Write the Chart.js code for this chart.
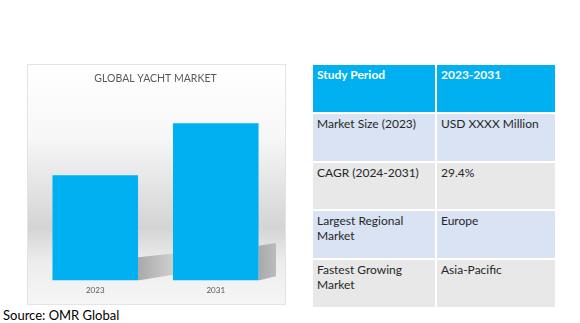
<!DOCTYPE html>
<html>
<head>
<meta charset="utf-8">
<script src="https://cdn.jsdelivr.net/npm/chart.js@4.4.1/dist/chart.umd.min.js"></script>
<style>
  body { margin: 0; width: 580px; height: 323px; background: #fff; position: relative; overflow: hidden; font-family: Lato, "Open Sans", sans-serif; }
  #box { position: absolute; left: 27px; top: 64px; width: 257px; height: 239px; border: 1px solid #e4e4e4;
    background: linear-gradient(to bottom, #ffffff 0%, #f7f7f7 30%, #d4d4d4 68%, #ececec 82%, #f6f6f6 100%); }
  #box canvas { position: absolute; left: 0; top: 0; }
  table { position: absolute; left: 311px; top: 63px; width: 246px; height: 244px; border-collapse: collapse; table-layout: fixed; font-size: 12px; color: #262626; }
  tr { height: 48.8px; }
  td { vertical-align: top; padding: 2px 4px; border: 2px solid #fff; line-height: 15px; }
  td:first-child { width: 114px; }
  tr.head td { background: #00b0f0; color: #fff; font-weight: bold; }
  tr.blue td { background: #dae3f3; }
  tr.grey td { background: #e8e8e8; }
  #src { position: absolute; left: 3px; top: 307px; font-size: 13px; color: #000; }
</style>
</head>
<body>
<div id="box"><canvas id="chart" width="257" height="239"></canvas></div>
<table id="info"></table>
<div id="src">Source: OMR Global</div>
<script>
const years = ['2023', '2031'];
const marketSize = [109, 163];

const tableLabels = ['Study Period', 'Market Size (2023)', 'CAGR (2024-2031)', 'Largest Regional Market', 'Fastest Growing Market'];
const tableValues = ['2023-2031', 'USD XXXX Million', '29.4%', 'Europe', 'Asia-Pacific'];

const info = document.getElementById('info');
tableLabels.forEach((label, i) => {
  const tr = document.createElement('tr');
  tr.className = i === 0 ? 'head' : (i % 2 ? 'blue' : 'grey');
  tr.innerHTML = '<td>' + label + '</td><td>' + tableValues[i] + '</td>';
  info.appendChild(tr);
});

// grey floor shadow behind each bar
const barShadow = {
  id: 'barShadow',
  beforeDatasetsDraw(chart) {
    const ctx = chart.ctx;
    const area = chart.chartArea;
    ctx.save();
    ctx.beginPath();
    ctx.rect(area.left, area.top, area.right - area.left, area.bottom - area.top);
    ctx.clip();
    chart.getDatasetMeta(0).data.forEach(bar => {
      const x2 = bar.x + bar.width / 2;
      const h = bar.base - bar.y;
      const g = ctx.createLinearGradient(x2, 0, x2 + 40, 0);
      g.addColorStop(0, '#a9a9a9');
      g.addColorStop(1, '#d4d4d4');
      ctx.fillStyle = g;
      ctx.beginPath();
      ctx.moveTo(x2, bar.base);
      ctx.lineTo(x2, bar.base - 0.22 * h);
      ctx.lineTo(x2 + 40, bar.base - 0.26 * h);
      ctx.lineTo(x2 + 40, bar.base - 0.06 * h);
      ctx.closePath();
      ctx.fill();
    });
    ctx.restore();
  }
};

const ctx = document.getElementById('chart').getContext('2d');
new Chart(ctx, {
  type: 'bar',
  data: {
    labels: years,
    datasets: [{
      data: marketSize,
      backgroundColor: '#00b0f0',
      borderWidth: 0,
      barPercentage: 0.71,
      categoryPercentage: 1
    }]
  },
  options: {
    responsive: false,
    animation: false,
    layout: { padding: { left: 7, right: 9, bottom: 4 } },
    plugins: {
      legend: { display: false },
      tooltip: { enabled: false },
      title: {
        display: true,
        text: 'GLOBAL YACHT MARKET',
        color: '#5a5a5a',
        font: { family: 'Lato', size: 10.5, weight: 'normal' },
        padding: { top: 7, bottom: 3 }
      }
    },
    scales: {
      x: {
        grid: { display: false, drawTicks: false },
        border: { display: false },
        ticks: { color: '#595959', font: { family: 'Lato', size: 8 }, padding: 5 }
      },
      y: { display: false, min: 0, max: 200 }
    }
  },
  plugins: [barShadow]
});
</script>
</body>
</html>
